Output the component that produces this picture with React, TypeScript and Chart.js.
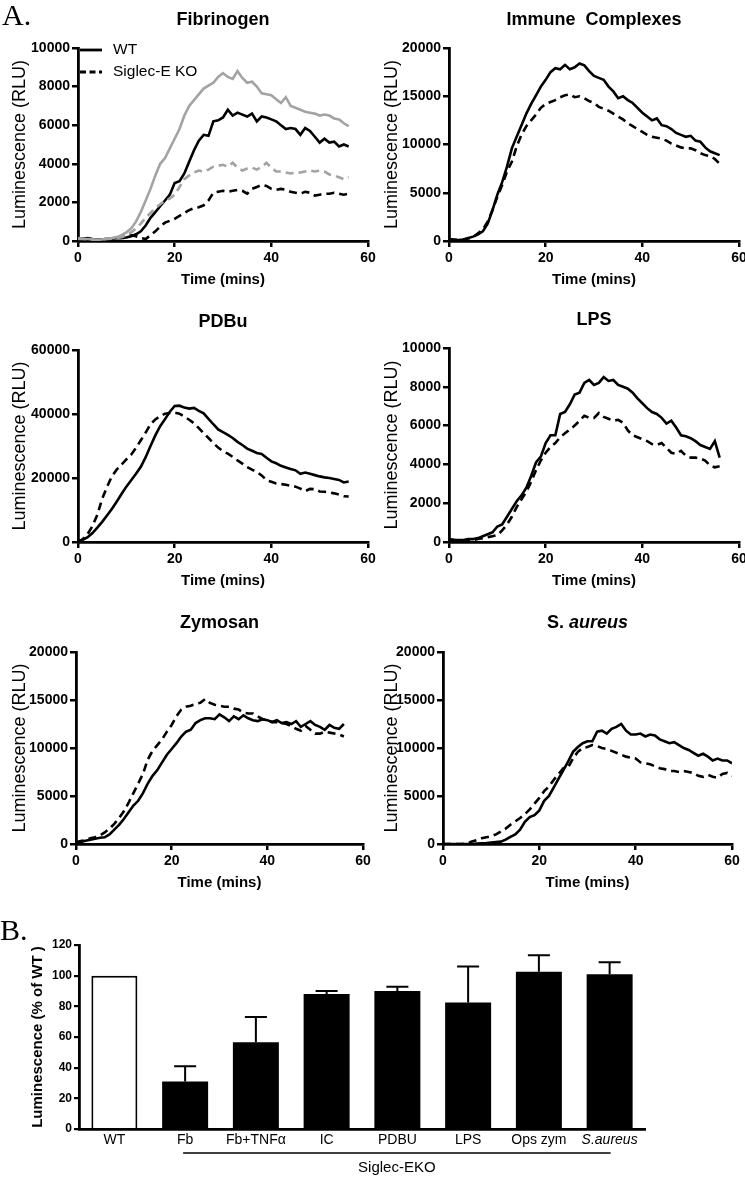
import React, { useEffect, useRef } from 'react';
import { Chart, registerables } from 'chart.js';
Chart.register(...registerables);

const FONT = '"Liberation Sans", Arial, Helvetica, sans-serif';
Chart.defaults.font.family = FONT;
Chart.defaults.color = '#000';

// ---------- DATA ----------
const TIME_56 = [0,1,2,3,4,5,6,7,8,9,10,11,12,13,14,15,16,17,18,19,20,21,22,23,24,25,26,27,28,29,30,31,32,33,34,35,36,37,38,39,40,41,42,43,44,45,46,47,48,49,50,51,52,53,54,55,56];
const TIME_60 = [0,1,2,3,4,5,6,7,8,9,10,11,12,13,14,15,16,17,18,19,20,21,22,23,24,25,26,27,28,29,30,31,32,33,34,35,36,37,38,39,40,41,42,43,44,45,46,47,48,49,50,51,52,53,54,55,56,57,58,59,60];

const FIB_WT = [150,120,150,100,80,60,100,120,150,150,180,250,350,500,800,1200,1500,1800,2100,2400,3000,3100,3500,4100,4700,5200,5500,5450,6200,6250,6400,6800,6500,6650,6550,6450,6600,6200,6450,6400,6300,6200,6000,5800,5850,5800,5500,5850,5700,5400,5100,5300,5100,5150,4900,5000,4900];
const FIB_KO = [150,100,100,80,80,100,100,120,150,200,250,300,250,150,100,300,500,750,950,1050,1150,1300,1450,1600,1700,1750,1850,2100,2500,2550,2600,2550,2600,2650,2600,2450,2700,2800,2900,2850,2700,2650,2700,2650,2550,2500,2450,2550,2500,2350,2400,2450,2450,2500,2450,2400,2450];
const FIB_WT_B = [150,120,100,80,60,80,120,150,200,300,450,650,1000,1500,2100,2700,3400,4000,4300,4800,5300,5800,6500,7000,7300,7600,7900,8050,8200,8500,8700,8500,8400,8800,8450,8200,8250,8000,7650,7600,7550,7350,7150,7450,7000,6900,6800,6700,6650,6600,6500,6550,6500,6350,6300,6100,5950];
const FIB_KO_B = [100,100,80,80,60,80,100,120,150,200,300,450,650,900,1200,1450,1700,1900,2100,2200,2400,2800,3200,3400,3550,3650,3600,3700,3850,3900,3950,3850,4050,3800,3650,3750,3800,3700,3850,4050,3800,3600,3600,3550,3500,3550,3550,3600,3650,3600,3650,3600,3450,3400,3300,3200,3300];

const IC_WT = [150,100,100,150,300,450,700,1000,1800,3200,4800,6100,7700,9600,10800,12000,13200,14200,15100,16000,16700,17500,17900,17800,18250,17800,18000,18400,18200,17600,17100,16900,16700,16000,15500,14800,15000,14600,14300,13800,13300,12900,12500,12700,12000,11900,11600,11200,11000,10800,10900,10400,10300,9700,9300,9100,8900];
const IC_KO = [200,150,100,150,250,400,800,1200,2000,3200,4600,5800,7200,8200,9800,11000,11900,12500,13100,13800,14200,14400,14600,14900,15100,15200,14900,15000,14800,14500,14300,13900,13700,13500,13200,12900,12600,12200,11900,11600,11300,11000,10800,10700,10600,10400,10100,9900,9700,9600,9600,9400,9100,8900,8800,8500,8000];

const PDBU_WT = [300,700,1500,2800,4500,6300,8300,10300,12600,15000,17300,19300,21300,23500,26500,30000,33300,36200,38400,40700,42500,42600,42000,41700,41900,41000,40200,38500,36800,35200,34300,33500,32500,31300,30300,29200,28500,27800,27500,26300,25200,24600,23800,23300,22800,22400,21300,21700,21300,20900,20500,20200,20000,19700,19400,18600,18900];
const PDBU_KO = [0,900,2500,5000,8500,13500,17200,20500,22600,24200,25800,27300,29400,31800,34200,36800,38300,39300,40100,40300,40400,40100,39200,38200,37100,35600,34000,32500,30900,29500,28400,27600,26600,25500,24500,23400,22600,21900,20800,19300,18800,18300,18100,17900,17600,17300,16700,15900,16600,16500,15800,15700,15500,15200,14800,14300,14200];

const LPS_WT = [150,120,100,100,150,150,200,300,400,500,800,900,1300,1700,2100,2400,2800,3400,4100,4400,5100,5500,5500,6600,6700,7100,7600,7700,8200,8350,8100,8200,8500,8300,8350,8100,8000,7900,7700,7400,7150,6900,6700,6600,6400,6100,6250,5900,5500,5450,5350,5200,5000,4900,4800,5200,4350];
const LPS_KO = [100,100,80,80,100,100,150,200,250,300,350,600,900,1300,1800,2200,2600,3100,3700,4200,4600,4900,5100,5400,5600,5800,6000,6250,6500,6400,6400,6650,6450,6350,6250,6300,6150,5750,5500,5400,5300,5200,5050,5000,5100,4850,4600,4550,4700,4450,4350,4350,4300,4200,3950,3850,3900];

const ZYM_WT = [150,200,350,450,550,650,700,1000,1500,2000,2600,3300,4000,4500,5300,6300,7100,7700,8500,9300,9900,10500,11200,11700,11900,12600,12900,13100,13100,13000,13500,13200,12800,13300,13000,13400,13100,12900,12800,13000,12900,12700,12900,12600,12700,12500,12800,12200,12500,12800,12400,12200,11900,12400,12100,12000,12500];
const ZYM_KO = [200,300,400,600,700,900,1200,1600,2100,2700,3400,4300,5300,6300,7300,8800,9700,10300,10900,11700,12400,13300,14000,14300,14400,14600,14700,15100,14700,14500,14400,14300,14300,14100,14000,13700,13600,13600,13300,13000,12900,12700,12700,12600,12500,12300,12000,11800,12300,11900,11500,11500,11700,11600,11500,11400,11200];

const SA_WT = [0,0,0,0,0,0,0,50,80,100,150,200,250,450,750,1000,1500,2300,2800,3000,3500,4500,5000,5900,6800,7700,8600,9600,10100,10500,10700,10700,11700,11800,11500,12000,12200,12500,11800,11400,11400,11500,11200,11400,11300,10900,10700,10500,10600,10300,10000,9800,9500,9200,9400,9100,8700,8900,8700,8700,8400];
const SA_KO = [0,0,0,0,0,50,250,400,600,700,800,1000,1300,1600,2000,2350,2700,3100,3600,4200,4800,5500,6000,6700,7300,7900,8000,8900,9600,10000,10100,10300,10200,10000,9900,9700,9500,9300,9100,9000,8900,8500,8400,8300,8100,7900,7800,7600,7600,7500,7600,7500,7400,7100,7000,7200,7000,6900,7300,7400,7100];

const LEGEND_LABELS = ['WT', 'Siglec-E KO'];

const BAR_CATEGORIES = ['WT', 'Fb', 'Fb+TNF\u03b1', 'IC', 'PDBU', 'LPS', 'Ops zym', 'S.aureus'];
const BAR_VALUES = [100, 31, 56.5, 88, 90, 82.5, 102.5, 101];
const BAR_ERRORS = [0, 10, 16.5, 2, 2.8, 23.5, 10.8, 7.7];
const BAR_GROUP_LABEL = 'Siglec-EKO';

// ---------- PLUGINS ----------
const panelTitlePlugin = {
  id: 'panelTitle',
  afterDraw(chart: any, _a: any, opts: any) {
    if (!opts || !opts.parts) return;
    const { ctx, chartArea } = chart;
    ctx.save();
    ctx.textBaseline = 'middle';
    ctx.textAlign = 'left';
    ctx.fillStyle = '#000';
    const fonts = opts.parts.map((p: any) => `${p.italic ? 'italic ' : ''}bold ${opts.size}px ${FONT}`);
    let total = 0;
    const widths = opts.parts.map((p: any, i: number) => {
      ctx.font = fonts[i];
      const w = ctx.measureText(p.text).width;
      total += w;
      return w;
    });
    let x = (chartArea.left + chartArea.right) / 2 - total / 2;
    opts.parts.forEach((p: any, i: number) => {
      ctx.font = fonts[i];
      ctx.fillText(p.text, x, opts.y);
      x += widths[i];
    });
    ctx.restore();
  },
};

const insideLegendPlugin = {
  id: 'insideLegend',
  afterDraw(chart: any, _a: any, opts: any) {
    if (!opts || !opts.items) return;
    const { ctx, chartArea } = chart;
    ctx.save();
    opts.items.forEach((it: any, i: number) => {
      const y = chartArea.top + 2 + i * 22;
      ctx.strokeStyle = '#000';
      ctx.lineWidth = 2.8;
      ctx.setLineDash(it.dashed ? [6, 3.5] : []);
      ctx.beginPath();
      ctx.moveTo(chartArea.left + 2, y);
      ctx.lineTo(chartArea.left + 24, y);
      ctx.stroke();
      ctx.setLineDash([]);
      ctx.fillStyle = '#000';
      ctx.font = `15.5px ${FONT}`;
      ctx.textBaseline = 'middle';
      ctx.textAlign = 'left';
      ctx.fillText(it.label, chartArea.left + 35, y);
    });
    ctx.restore();
  },
};

const errorBarPlugin = {
  id: 'errorBars',
  afterDatasetsDraw(chart: any, _a: any, opts: any) {
    if (!opts || !opts.errors) return;
    const { ctx } = chart;
    const meta = chart.getDatasetMeta(0);
    const ys = chart.scales.y;
    ctx.save();
    ctx.strokeStyle = '#000';
    ctx.lineWidth = 2;
    opts.errors.forEach((e: number, i: number) => {
      if (!e) return;
      const bar = meta.data[i];
      const v = opts.values[i];
      const y0 = ys.getPixelForValue(v);
      const y1 = ys.getPixelForValue(v + e);
      ctx.beginPath();
      ctx.moveTo(bar.x, y0);
      ctx.lineTo(bar.x, y1);
      ctx.moveTo(bar.x - opts.cap / 2, y1);
      ctx.lineTo(bar.x + opts.cap / 2, y1);
      ctx.stroke();
    });
    ctx.restore();
  },
};

const groupBracketPlugin = {
  id: 'groupBracket',
  afterDraw(chart: any, _a: any, opts: any) {
    if (!opts || !opts.label) return;
    const { ctx, chartArea } = chart;
    const xs = chart.scales.x;
    const x1 = xs.getPixelForValue(opts.from) - 2;
    const x2 = xs.getPixelForValue(opts.to) + 1;
    const y = chartArea.bottom + 24;
    ctx.save();
    ctx.strokeStyle = '#000';
    ctx.lineWidth = 1.6;
    ctx.beginPath();
    ctx.moveTo(x1, y);
    ctx.lineTo(x2, y);
    ctx.stroke();
    ctx.fillStyle = '#000';
    ctx.font = `15px ${FONT}`;
    ctx.textAlign = 'center';
    ctx.textBaseline = 'middle';
    ctx.fillText(opts.label, (x1 + x2) / 2, y + 15);
    ctx.restore();
  },
};

// ---------- PANELS ----------
type Series = { time: number[]; values: number[]; color: string; dashed: boolean; label: string };
type PanelSpec = {
  title: { text: string; italic: boolean }[];
  titleY: number;
  left: number; top: number; width: number;
  axisLeft: number; axisTop: number; axisRight: number; axisBottom: number;
  yMax: number; yStep: number;
  series: Series[];
  legend?: boolean;
};

const BLACK = '#000000';
const GREY = '#a3a3a3';
const X_AXIS_H = 52;

const PANELS: PanelSpec[] = [
  {
    title: [{ text: 'Fibrinogen', italic: false }], titleY: 20,
    left: 0, top: 4, width: 382, axisLeft: 78, axisTop: 48, axisRight: 368, axisBottom: 241,
    yMax: 10000, yStep: 2000, legend: true,
    series: [
      { time: TIME_56, values: FIB_WT_B, color: GREY, dashed: false, label: 'WT (2)' },
      { time: TIME_56, values: FIB_KO_B, color: GREY, dashed: true, label: 'Siglec-E KO (2)' },
      { time: TIME_56, values: FIB_WT, color: BLACK, dashed: false, label: 'WT' },
      { time: TIME_56, values: FIB_KO, color: BLACK, dashed: true, label: 'Siglec-E KO' },
    ],
  },
  {
    title: [{ text: 'Immune  Complexes', italic: false }], titleY: 20,
    left: 372, top: 4, width: 382, axisLeft: 449, axisTop: 48, axisRight: 739, axisBottom: 241,
    yMax: 20000, yStep: 5000,
    series: [
      { time: TIME_56, values: IC_WT, color: BLACK, dashed: false, label: 'WT' },
      { time: TIME_56, values: IC_KO, color: BLACK, dashed: true, label: 'Siglec-E KO' },
    ],
  },
  {
    title: [{ text: 'PDBu', italic: false }], titleY: 322,
    left: 0, top: 306, width: 382, axisLeft: 78, axisTop: 350, axisRight: 368, axisBottom: 542,
    yMax: 60000, yStep: 20000,
    series: [
      { time: TIME_56, values: PDBU_WT, color: BLACK, dashed: false, label: 'WT' },
      { time: TIME_56, values: PDBU_KO, color: BLACK, dashed: true, label: 'Siglec-E KO' },
    ],
  },
  {
    title: [{ text: 'LPS', italic: false }], titleY: 320,
    left: 372, top: 304, width: 382, axisLeft: 449, axisTop: 348, axisRight: 739, axisBottom: 542,
    yMax: 10000, yStep: 2000,
    series: [
      { time: TIME_56, values: LPS_WT, color: BLACK, dashed: false, label: 'WT' },
      { time: TIME_56, values: LPS_KO, color: BLACK, dashed: true, label: 'Siglec-E KO' },
    ],
  },
  {
    title: [{ text: 'Zymosan', italic: false }], titleY: 623,
    left: 0, top: 607, width: 382, axisLeft: 76, axisTop: 652, axisRight: 363, axisBottom: 844,
    yMax: 20000, yStep: 5000,
    series: [
      { time: TIME_56, values: ZYM_WT, color: BLACK, dashed: false, label: 'WT' },
      { time: TIME_56, values: ZYM_KO, color: BLACK, dashed: true, label: 'Siglec-E KO' },
    ],
  },
  {
    title: [{ text: 'S. ', italic: false }, { text: 'aureus', italic: true }], titleY: 623,
    left: 372, top: 607, width: 382, axisLeft: 443, axisTop: 652, axisRight: 732, axisBottom: 844,
    yMax: 20000, yStep: 5000,
    series: [
      { time: TIME_60, values: SA_WT, color: BLACK, dashed: false, label: 'WT' },
      { time: TIME_60, values: SA_KO, color: BLACK, dashed: true, label: 'Siglec-E KO' },
    ],
  },
];

function LinePanel({ spec }: { spec: PanelSpec }) {
  const ref = useRef<HTMLCanvasElement | null>(null);
  const height = spec.axisBottom + X_AXIS_H + 2 - spec.top;
  useEffect(() => {
    if (!ref.current) return;
    const yw = spec.axisLeft - spec.left;
    const pt = spec.axisTop - spec.top;
    const pr = spec.left + spec.width - spec.axisRight;
    const pb = spec.top + height - spec.axisBottom - X_AXIS_H;
    const chart = new Chart(ref.current, {
      type: 'line',
      data: {
        datasets: spec.series.map((s) => ({
          label: s.label,
          data: s.time.map((t, i) => ({ x: t, y: s.values[i] })),
          borderColor: s.color,
          borderWidth: 2.6,
          borderDash: s.dashed ? [8, 5] : [],
          pointRadius: 0,
          tension: 0,
          fill: false,
        })),
      },
      options: {
        responsive: false,
        animation: false,
        events: [],
        layout: { padding: { left: 0, top: pt, right: pr, bottom: pb } },
        plugins: {
          legend: { display: false },
          tooltip: { enabled: false },
          panelTitle: { parts: spec.title, y: spec.titleY - spec.top, size: 18 },
          insideLegend: spec.legend
            ? { items: [{ label: LEGEND_LABELS[0], dashed: false }, { label: LEGEND_LABELS[1], dashed: true }] }
            : {},
        } as any,
        scales: {
          x: {
            type: 'linear',
            min: 0,
            max: 60,
            afterFit: (s: any) => { s.height = X_AXIS_H; },
            ticks: { stepSize: 20, padding: 3, font: { size: 14, weight: 'bold' }, color: '#000', maxRotation: 0 },
            grid: { display: true, drawOnChartArea: false, drawTicks: true, tickLength: 6, color: '#000', lineWidth: 2.5 },
            border: { display: true, color: '#000', width: 2.8 },
            title: { display: true, text: 'Time (mins)', font: { size: 15, weight: 'bold' }, color: '#000', padding: { top: 0, bottom: 4 } },
          },
          y: {
            type: 'linear',
            min: 0,
            max: spec.yMax,
            afterFit: (s: any) => { s.width = yw; },
            ticks: { stepSize: spec.yStep, padding: 2, font: { size: 14, weight: 'bold' }, color: '#000', callback: (v: any) => String(v) },
            grid: { display: true, drawOnChartArea: false, drawTicks: true, tickLength: 6, color: '#000', lineWidth: 2.5 },
            border: { display: true, color: '#000', width: 2.8 },
            title: { display: true, text: 'Luminescence (RLU)', font: { size: 18, weight: 'normal' }, color: '#000', padding: { top: 9, bottom: 0 } },
          },
        },
      } as any,
      plugins: [panelTitlePlugin, insideLegendPlugin],
    });
    return () => chart.destroy();
  }, []);
  return (
    <canvas
      ref={ref}
      width={spec.width}
      height={height}
      style={{ position: 'absolute', left: spec.left, top: spec.top, width: spec.width, height }}
    />
  );
}

const BAR_BOX = { left: 0, top: 900, width: 745, height: 277, axisLeft: 79, axisTop: 945, axisRight: 645, axisBottom: 1129 };

function BarPanel() {
  const ref = useRef<HTMLCanvasElement | null>(null);
  useEffect(() => {
    if (!ref.current) return;
    const b = BAR_BOX;
    const xh = 46;
    const chart = new Chart(ref.current, {
      type: 'bar',
      data: {
        labels: BAR_CATEGORIES,
        datasets: [
          {
            data: BAR_VALUES,
            backgroundColor: BAR_VALUES.map((_, i) => (i === 0 ? '#ffffff' : '#000000')),
            borderColor: '#000000',
            borderWidth: BAR_VALUES.map((_, i) => (i === 0 ? 2 : 0)),
            categoryPercentage: 1,
            barPercentage: 0.65,
          },
        ],
      },
      options: {
        responsive: false,
        animation: false,
        events: [],
        layout: {
          padding: {
            left: 0,
            top: b.axisTop - b.top,
            right: b.left + b.width - b.axisRight,
            bottom: b.top + b.height - b.axisBottom - xh,
          },
        },
        plugins: {
          legend: { display: false },
          tooltip: { enabled: false },
          errorBars: { errors: BAR_ERRORS, values: BAR_VALUES, cap: 22 },
          groupBracket: { label: BAR_GROUP_LABEL, from: 1, to: 7 },
        } as any,
        scales: {
          x: {
            type: 'category',
            afterFit: (s: any) => { s.height = xh; },
            ticks: {
              padding: 3,
              color: '#000',
              maxRotation: 0,
              autoSkip: false,
              font: (c: any) => ({ size: 14, style: c.index === 7 ? 'italic' : 'normal', family: FONT }),
            },
            grid: { display: false, drawTicks: false, tickLength: 0 },
            border: { display: true, color: '#000', width: 2.8 },
          },
          y: {
            type: 'linear',
            min: 0,
            max: 120,
            afterFit: (s: any) => { s.width = b.axisLeft - b.left; },
            ticks: { stepSize: 20, padding: 2, font: { size: 12, weight: 'bold' }, color: '#000' },
            grid: { display: true, drawOnChartArea: false, drawTicks: true, tickLength: 5, color: '#000', lineWidth: 2.2 },
            border: { display: true, color: '#000', width: 2.8 },
            title: { display: true, text: 'Luminescence (% of WT )', font: { size: 15, weight: 'bold' }, color: '#000', padding: { top: 29, bottom: 0 } },
          },
        },
      } as any,
      plugins: [errorBarPlugin, groupBracketPlugin],
    });
    return () => chart.destroy();
  }, []);
  return (
    <canvas
      ref={ref}
      width={BAR_BOX.width}
      height={BAR_BOX.height}
      style={{ position: 'absolute', left: BAR_BOX.left, top: BAR_BOX.top, width: BAR_BOX.width, height: BAR_BOX.height }}
    />
  );
}

const panelLetter: React.CSSProperties = {
  position: 'absolute',
  fontFamily: '"Liberation Serif", "Times New Roman", serif',
  fontSize: 30,
  lineHeight: '30px',
  color: '#000',
};

export default function App() {
  return (
    <div style={{ position: 'absolute', left: 0, top: 0, width: 745, height: 1177, overflow: 'hidden', background: '#fff' }}>
      {PANELS.map((p, i) => (
        <LinePanel key={i} spec={p} />
      ))}
      <BarPanel />
      <div style={{ ...panelLetter, left: 2, top: 0 }}>A.</div>
      <div style={{ ...panelLetter, left: 0, top: 915 }}>B.</div>
    </div>
  );
}
